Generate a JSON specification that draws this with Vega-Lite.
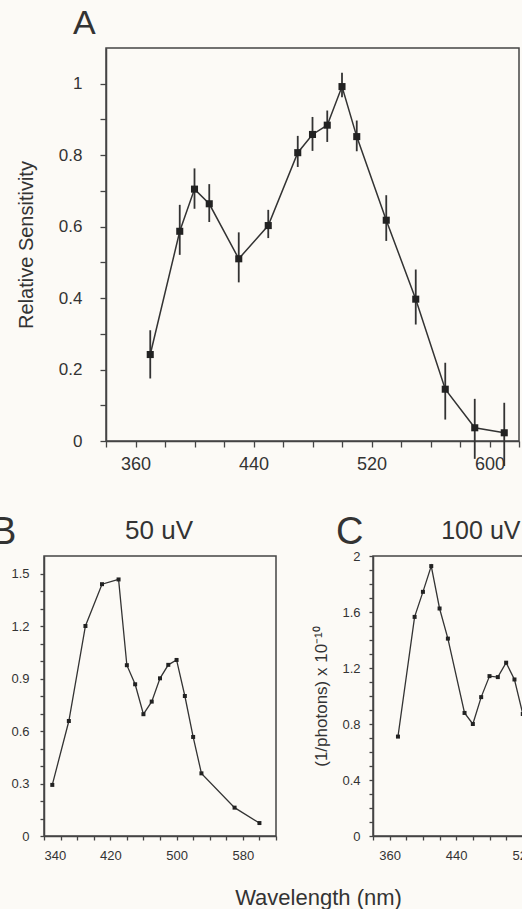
{
  "$schema": "https://vega.github.io/schema/vega-lite/v6.json",
  "background": "#fcfaf6",
  "padding": {"left": -10, "top": 6, "right": 0, "bottom": 0},
  "config": {
    "view": {"stroke": "#444", "strokeWidth": 1.5},
    "axis": {"domainColor": "#444", "domainWidth": 1.5, "tickColor": "#444", "tickWidth": 1.3, "labelColor": "#333", "titleColor": "#333", "grid": false, "labelOverlap": false, "labelFont": "Liberation Sans", "titleFont": "Liberation Sans", "titleFontWeight": "normal"},
    "text": {"font": "Liberation Sans", "color": "#333"}
  },
  "spacing": 39,
  "vconcat": [
    {
      "spacing": 0,
      "bounds": "flush",
      "hconcat": [
        {
          "width": 62,
          "height": 393,
          "view": {"stroke": null, "fill": "transparent"},
          "data": {"values": []},
          "mark": "point"
        },
        {
          "width": 413,
          "height": 393,
          "resolve": {"scale": {"x": "independent", "y": "independent"}},
          "data": {"values": [
            {"wl": 370, "s": 0.242, "lo": 0.175, "hi": 0.31},
            {"wl": 390, "s": 0.587, "lo": 0.521, "hi": 0.661},
            {"wl": 400, "s": 0.705, "lo": 0.65, "hi": 0.763},
            {"wl": 410, "s": 0.664, "lo": 0.613, "hi": 0.719},
            {"wl": 430, "s": 0.51, "lo": 0.444, "hi": 0.584},
            {"wl": 450, "s": 0.603, "lo": 0.568, "hi": 0.647},
            {"wl": 470, "s": 0.807, "lo": 0.767, "hi": 0.854},
            {"wl": 480, "s": 0.858, "lo": 0.812, "hi": 0.907},
            {"wl": 490, "s": 0.884, "lo": 0.837, "hi": 0.925},
            {"wl": 500, "s": 0.992, "lo": 0.962, "hi": 1.031},
            {"wl": 510, "s": 0.852, "lo": 0.811, "hi": 0.897},
            {"wl": 530, "s": 0.618, "lo": 0.56, "hi": 0.688},
            {"wl": 550, "s": 0.397, "lo": 0.326, "hi": 0.48},
            {"wl": 570, "s": 0.145, "lo": 0.06, "hi": 0.219},
            {"wl": 590, "s": 0.037, "lo": -0.05, "hi": 0.118},
            {"wl": 610, "s": 0.023, "lo": -0.07, "hi": 0.107}
          ]},
          "layer": [
            {
              "encoding": {
                "x": {"field": "wl", "type": "quantitative", "title": null,
                  "scale": {"domain": [340, 620], "nice": false, "zero": false},
                  "axis": {"values": [340, 360, 380, 400, 420, 440, 460, 480, 500, 520, 540, 560, 580, 600, 620],
                    "labelExpr": "datum.value % 80 == 40 ? datum.label : ''", "labelOverlap": false,
                    "labelFontSize": 18, "tickSize": 6, "labelPadding": 8}},
                "y": {"field": "s", "type": "quantitative", "title": "Relative Sensitivity",
                  "scale": {"domain": [0, 1.1], "nice": false, "zero": false},
                  "axis": {"values": [0, 0.1, 0.2, 0.3, 0.4, 0.5, 0.6, 0.7, 0.8, 0.9, 1],
                    "labelExpr": "round(datum.value*10) % 2 == 0 ? format(datum.value, '~g') : ''", "labelOverlap": false,
                    "labelFontSize": 17, "tickSize": 6, "labelPadding": 18,
                    "titleFontSize": 20, "titleX": -74, "titleBaseline": "alphabetic", "titleAngle": 270}}
              },
              "layer": [
                {"mark": {"type": "rule", "color": "#333", "strokeWidth": 1.8},
                 "encoding": {"y": {"field": "lo", "type": "quantitative", "title": "Relative Sensitivity"}, "y2": {"field": "hi"}}},
                {"mark": {"type": "line", "color": "#333", "strokeWidth": 1.5}, "encoding": {}},
                {"mark": {"type": "point", "shape": "square", "filled": true, "size": 50, "color": "#222", "opacity": 1}, "encoding": {}}
              ]
            },
            {"data": {"values": [{"label": "A"}]},
             "mark": {"type": "text", "fontSize": 34, "align": "left", "baseline": "alphabetic"},
             "encoding": {
               "x": {"datum": 317.6, "axis": null, "scale": {"domain": [340, 620], "nice": false, "zero": false}},
               "y": {"datum": 1.139, "axis": null, "scale": {"domain": [0, 1.1], "nice": false, "zero": false}},
               "text": {"field": "label"}}}
          ]
        }
      ]
    },
    {
      "spacing": 97,
      "bounds": "flush",
      "hconcat": [
        {
          "width": 232,
          "height": 280,
          "resolve": {"scale": {"x": "independent", "y": "independent"}},
          "data": {"values": [
            {"wl": 350, "v": 0.292}, {"wl": 370, "v": 0.657}, {"wl": 390, "v": 1.2},
            {"wl": 410, "v": 1.439}, {"wl": 430, "v": 1.466}, {"wl": 440, "v": 0.976},
            {"wl": 450, "v": 0.867}, {"wl": 460, "v": 0.696}, {"wl": 470, "v": 0.768},
            {"wl": 480, "v": 0.901}, {"wl": 490, "v": 0.978}, {"wl": 500, "v": 1.006},
            {"wl": 510, "v": 0.8}, {"wl": 520, "v": 0.566}, {"wl": 530, "v": 0.358},
            {"wl": 570, "v": 0.162}, {"wl": 600, "v": 0.074}
          ]},
          "layer": [
            {
              "encoding": {
                "x": {"field": "wl", "type": "quantitative", "title": "Wavelength (nm)",
                  "scale": {"domain": [340, 620], "nice": false, "zero": false},
                  "axis": {"values": [340, 360, 380, 400, 420, 440, 460, 480, 500, 520, 540, 560, 580, 600, 620],
                    "labelExpr": "datum.value % 80 == 20 ? datum.label : ''", "labelOverlap": false,
                    "labelFontSize": 13, "tickSize": 4, "labelPadding": 9,
                    "titleFontSize": 22, "titleX": 274, "titleY": 68, "titleBaseline": "alphabetic", "titleAlign": "center"}},
                "y": {"field": "v", "type": "quantitative", "title": null,
                  "scale": {"domain": [0, 1.6], "nice": false, "zero": false},
                  "axis": {"values": [0, 0.1, 0.2, 0.3, 0.4, 0.5, 0.6, 0.7, 0.8, 0.9, 1, 1.1, 1.2, 1.3, 1.4, 1.5],
                    "labelExpr": "round(datum.value*10) % 3 == 0 ? format(datum.value, '~g') : ''", "labelOverlap": false,
                    "labelFontSize": 13, "tickSize": 4, "labelPadding": 11}}
              },
              "layer": [
                {"mark": {"type": "line", "color": "#333", "strokeWidth": 1.3}, "encoding": {}},
                {"mark": {"type": "point", "shape": "square", "filled": true, "size": 16, "color": "#222", "opacity": 1}, "encoding": {}}
              ]
            },
            {"data": {"values": [{"label": "B"}]},
             "mark": {"type": "text", "fontSize": 38, "align": "left", "baseline": "alphabetic"},
             "encoding": {
               "x": {"datum": 276, "axis": null, "scale": {"domain": [340, 620], "nice": false, "zero": false}},
               "y": {"datum": 1.669, "axis": null, "scale": {"domain": [0, 1.6], "nice": false, "zero": false}},
               "text": {"field": "label"}}},
            {"data": {"values": [{"label": "50 uV"}]},
             "mark": {"type": "text", "fontSize": 26, "align": "center", "baseline": "alphabetic"},
             "encoding": {
               "x": {"datum": 478.8, "axis": null, "scale": {"domain": [340, 620], "nice": false, "zero": false}},
               "y": {"datum": 1.697, "axis": null, "scale": {"domain": [0, 1.6], "nice": false, "zero": false}},
               "text": {"field": "label"}}}
          ]
        },
        {
          "width": 233,
          "height": 280,
          "resolve": {"scale": {"x": "independent", "y": "independent"}},
          "data": {"values": [
            {"wl": 370, "v": 0.71}, {"wl": 390, "v": 1.565}, {"wl": 400, "v": 1.744},
            {"wl": 410, "v": 1.928}, {"wl": 420, "v": 1.625}, {"wl": 430, "v": 1.41},
            {"wl": 450, "v": 0.879}, {"wl": 460, "v": 0.8}, {"wl": 470, "v": 0.992},
            {"wl": 480, "v": 1.142}, {"wl": 490, "v": 1.135}, {"wl": 500, "v": 1.238},
            {"wl": 510, "v": 1.118}, {"wl": 520, "v": 0.872}
          ]},
          "layer": [
            {
              "encoding": {
                "x": {"field": "wl", "type": "quantitative", "title": null,
                  "scale": {"domain": [340, 620], "nice": false, "zero": false},
                  "axis": {"values": [340, 360, 380, 400, 420, 440, 460, 480, 500, 520, 540, 560, 580, 600, 620],
                    "labelExpr": "datum.value % 80 == 40 ? datum.label : ''", "labelOverlap": false,
                    "labelFontSize": 13, "tickSize": 4, "labelPadding": 9}},
                "y": {"field": "v", "type": "quantitative", "title": "(1/photons) x 10⁻¹⁰",
                  "scale": {"domain": [0, 2], "nice": false, "zero": false},
                  "axis": {"values": [0, 0.1, 0.2, 0.3, 0.4, 0.5, 0.6, 0.7, 0.8, 0.9, 1, 1.1, 1.2, 1.3, 1.4, 1.5, 1.6, 1.7, 1.8, 1.9, 2],
                    "labelExpr": "round(datum.value*10) % 4 == 0 ? format(datum.value, '~g') : ''", "labelOverlap": false,
                    "labelFontSize": 13, "tickSize": 4, "labelPadding": 9,
                    "titleFontSize": 17, "titleX": -47, "titleBaseline": "alphabetic", "titleAngle": 270}}
              },
              "layer": [
                {"mark": {"type": "line", "color": "#333", "strokeWidth": 1.3}, "encoding": {}},
                {"mark": {"type": "point", "shape": "square", "filled": true, "size": 16, "color": "#222", "opacity": 1}, "encoding": {}}
              ]
            },
            {"data": {"values": [{"label": "C"}]},
             "mark": {"type": "text", "fontSize": 38, "align": "left", "baseline": "alphabetic"},
             "encoding": {
               "x": {"datum": 295.6, "axis": null, "scale": {"domain": [340, 620], "nice": false, "zero": false}},
               "y": {"datum": 2.086, "axis": null, "scale": {"domain": [0, 2], "nice": false, "zero": false}},
               "text": {"field": "label"}}},
            {"data": {"values": [{"label": "100 uV"}]},
             "mark": {"type": "text", "fontSize": 25, "align": "center", "baseline": "alphabetic"},
             "encoding": {
               "x": {"datum": 469.6, "axis": null, "scale": {"domain": [340, 620], "nice": false, "zero": false}},
               "y": {"datum": 2.121, "axis": null, "scale": {"domain": [0, 2], "nice": false, "zero": false}},
               "text": {"field": "label"}}}
          ]
        }
      ]
    }
  ]
}
